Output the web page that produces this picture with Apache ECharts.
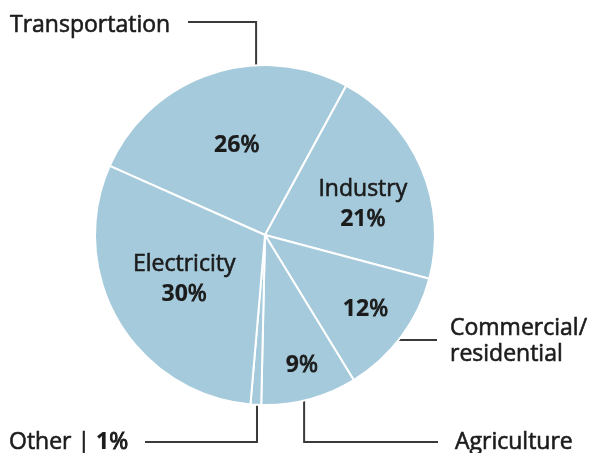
<!DOCTYPE html>
<html>
<head>
<meta charset="utf-8">
<script src="https://cdn.jsdelivr.net/npm/echarts@6/dist/echarts.min.js"></script>
<style>
  html, body { margin: 0; padding: 0; background: #fff; }
  #chart { width: 590px; height: 453px; }
</style>
</head>
<body>
<div id="chart"></div>
<script>
// Sources of emissions, share of total (%)
const categories = ['Transportation', 'Industry', 'Commercial/residential', 'Agriculture', 'Other', 'Electricity'];
const shares = [26, 21, 12, 9, 1, 30];
// Names written inside the slice (null: number only)
const insideNames = [null, 'Industry', null, null, null, 'Electricity'];
// Names written outside, next to a callout line (null: no callout)
const outsideNames = ['Transportation', null, 'Commercial/\nresidential', 'Agriculture', 'Other', null];

const FONT = '"Open Sans", "Noto Sans", sans-serif';
const INK = '#1b1b1b';
const FILL = '#a5cadc';
const LINE = '#3a3a3a';
const CX = 265, CY = 235, R = 170;
const START = 156; // first slice starts a little above 9 o'clock
const SIZE = 23;
const HEFT = 0.6;  // thin outline that gives the names a medium weight

// Nudges of the in-slice labels away from their default spot (half radius, mid angle)
const insideShift = [[0, -6], [17, 4], [30, 22], [14, 45], [0, 0], [-5, 0]];

// Point on the rim, angle measured clockwise from 12 o'clock
function rim(deg) {
  const a = deg * Math.PI / 180;
  return [CX + R * Math.sin(a), CY - R * Math.cos(a)];
}

// Callouts: rim angle of the line's start, turning height, line end, and where the text sits
const callouts = {
  0: { angle: -3,    turnY: 22,   endX: 188, text: [10, 25] },
  2: { angle: 128.1, turnY: null, endX: 437, text: [450, 341] },
  3: { angle: 166.7, turnY: 442,  endX: 438, text: [455, 442] },
  4: { angle: 182.7, turnY: 442,  endX: 145, text: [9, 442] }
};

const numRich = {
  num: { fontFamily: FONT, fontSize: SIZE, fontWeight: 'bold', color: INK, lineHeight: 30,
         textBorderColor: INK, textBorderWidth: 0.2 },
  pct: { fontFamily: FONT, fontSize: SIZE, fontWeight: 'normal', color: INK, lineHeight: 30,
         textBorderColor: INK, textBorderWidth: 1 }
};

const insideData = categories.map((name, i) => ({
  name, value: shares[i],
  label: { show: i !== 4 }
}));

const outsideData = categories.map((name, i) => ({
  name, value: shares[i],
  label: { show: outsideNames[i] !== null },
  labelLine: { show: outsideNames[i] !== null }
}));

const chart = echarts.init(document.getElementById('chart'), null, { renderer: 'canvas' });

chart.setOption({
  animation: false,
  backgroundColor: '#ffffff',
  series: [
    {
      type: 'pie',
      center: [CX, CY],
      radius: [0, R],
      startAngle: START,
      clockwise: true,
      avoidLabelOverlap: false,
      emphasis: { disabled: true },
      itemStyle: { color: FILL, borderColor: '#ffffff', borderWidth: 2 },
      label: {
        show: true,
        position: 'inside',
        fontFamily: FONT,
        fontSize: SIZE,
        color: INK,
        textBorderColor: INK,
        textBorderWidth: HEFT,
        lineHeight: 30,
        align: 'center',
        formatter: p => {
          const n = insideNames[p.dataIndex];
          const v = '{num|' + p.value + '}{pct|%}';
          return n ? n + '\n' + v : v;
        },
        rich: numRich
      },
      labelLayout: p => {
        const s = insideShift[p.dataIndex];
        return { dx: s[0], dy: s[1] };
      },
      data: insideData
    },
    {
      type: 'pie',
      center: [CX, CY],
      radius: [0, R],
      startAngle: START,
      clockwise: true,
      silent: true,
      avoidLabelOverlap: false,
      emphasis: { disabled: true },
      itemStyle: { color: 'rgba(0,0,0,0)', borderWidth: 0 },
      label: {
        show: true,
        position: 'outside',
        fontFamily: FONT,
        fontSize: SIZE,
        color: INK,
        textBorderColor: INK,
        textBorderWidth: HEFT,
        lineHeight: 26,
        overflow: 'none',
        formatter: p => {
          const n = outsideNames[p.dataIndex];
          if (p.dataIndex === 4) return n + ' | {num|' + p.value + '}{pct|%}';
          return n;
        },
        rich: numRich
      },
      labelLine: {
        show: true,
        lineStyle: { color: LINE, width: 2 }
      },
      labelLayout: p => {
        const c = callouts[p.dataIndex];
        if (!c) return {};
        const a = rim(c.angle);
        const pts = c.turnY === null
          ? [a, [c.endX, a[1]]]
          : [a, [a[0], c.turnY], [c.endX, c.turnY]];
        return {
          x: c.text[0], y: c.text[1],
          align: 'left', verticalAlign: 'middle',
          labelLinePoints: pts
        };
      },
      data: outsideData
    }
  ]
});
</script>
</body>
</html>
